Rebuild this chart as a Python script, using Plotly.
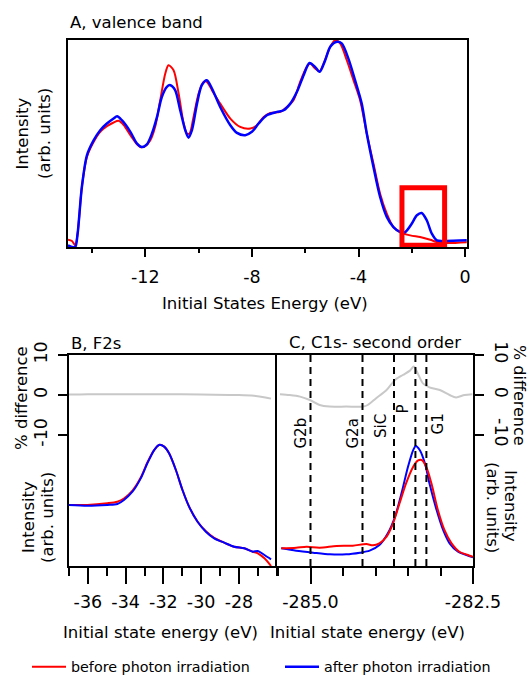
import plotly.graph_objects as go

# ---------------- data ----------------
# Panel A: valence band (intensity, arb. units)
a_red_x = [-14.9, -14.75, -14.63, -14.54, -14.38, -14.19, -13.94, -13.69, -13.44, -13.19, -13.0, -12.81,
           -12.56, -12.31, -12.19, -12.0, -11.81, -11.63, -11.44, -11.25, -11.13, -10.94, -10.75, -10.56,
           -10.44, -10.34, -10.19, -10.0, -9.81, -9.69, -9.5, -9.19, -8.81, -8.44, -8.06, -7.81, -7.56,
           -7.31, -6.94, -6.69, -6.44, -6.19, -5.94, -5.81, -5.63, -5.46, -5.31, -5.06, -4.88, -4.69,
           -4.44, -4.19, -3.94, -3.69, -3.44, -3.19, -2.94, -2.69, -2.44, -2.06, -1.69, -1.31, -1.06,
           -0.69, 0.06]
a_red_y = [0.035, 0.029, 0.008, 0.064, 0.289, 0.434, 0.506, 0.555, 0.582, 0.600, 0.608, 0.587,
           0.539, 0.495, 0.482, 0.486, 0.514, 0.579, 0.707, 0.836, 0.876, 0.852, 0.740, 0.595,
           0.547, 0.547, 0.627, 0.740, 0.796, 0.796, 0.756, 0.691, 0.619, 0.579, 0.571, 0.587, 0.627,
           0.646, 0.651, 0.675, 0.707, 0.796, 0.868, 0.884, 0.860, 0.847, 0.884, 0.965, 0.997, 0.981,
           0.900, 0.804, 0.707, 0.547, 0.402, 0.257, 0.161, 0.096, 0.072, 0.056, 0.048, 0.035, 0.024,
           0.019, 0.023]
a_blue_x = [-14.9, -14.75, -14.63, -14.54, -14.38, -14.19, -13.94, -13.69, -13.44, -13.19, -13.06, -12.88,
            -12.56, -12.31, -12.13, -11.94, -11.75, -11.56, -11.38, -11.19, -11.06, -10.88, -10.69, -10.5,
            -10.38, -10.25, -10.06, -9.88, -9.69, -9.5, -9.19, -8.81, -8.56, -8.25, -8.0, -7.75, -7.44,
            -7.06, -6.81, -6.56, -6.31, -6.06, -5.84, -5.63, -5.46, -5.25, -5.06, -4.81, -4.63, -4.38,
            -4.13, -3.88, -3.69, -3.44, -3.19, -2.94, -2.69, -2.44, -2.25, -2.0, -1.81, -1.63, -1.44,
            -1.25, -1.06, -0.81, 0.06]
a_blue_y = [0.008, 0.0, 0.0, 0.064, 0.289, 0.442, 0.514, 0.563, 0.595, 0.619, 0.630, 0.611,
            0.555, 0.498, 0.482, 0.495, 0.547, 0.627, 0.723, 0.772, 0.780, 0.756, 0.659, 0.563,
            0.527, 0.563, 0.691, 0.780, 0.804, 0.764, 0.675, 0.587, 0.550, 0.539, 0.555, 0.595, 0.635,
            0.651, 0.659, 0.691, 0.748, 0.828, 0.887, 0.868, 0.844, 0.900, 0.965, 0.989, 0.981, 0.908,
            0.804, 0.691, 0.547, 0.386, 0.241, 0.145, 0.096, 0.072, 0.072, 0.113, 0.153, 0.164, 0.129,
            0.064, 0.032, 0.029, 0.032]
a_ticks = [-12, -8, -4, 0]
a_tick_text = ["-12", "-8", "-4", "0"]
a_minor = [-14, -10, -6, -2]
a_box = {"x0": -2.37, "x1": -0.77, "y0": 0.009, "y1": 0.286}   # highlighted region

# Panel B: F2s
b_x = [-37.0, -36.03, -34.97, -34.44, -34.09, -33.64, -33.20, -32.85, -32.49, -32.23, -31.96, -31.70,
       -31.34, -30.99, -30.64, -30.19, -29.75, -29.31, -28.78, -28.25, -27.72, -27.27, -27.00, -26.65,
       -26.30]
b_red_y = [0.466, 0.466, 0.479, 0.491, 0.515, 0.575, 0.675, 0.790, 0.885, 0.924, 0.911, 0.860,
           0.733, 0.580, 0.453, 0.338, 0.265, 0.215, 0.178, 0.147, 0.135, 0.109, 0.097, 0.059, 0.0]
b_blue_y = [0.466, 0.460, 0.466, 0.473, 0.504, 0.567, 0.669, 0.784, 0.885, 0.924, 0.911, 0.860,
            0.733, 0.580, 0.453, 0.338, 0.262, 0.211, 0.178, 0.147, 0.135, 0.109, 0.115, 0.084, 0.051]
b_diff_x = [-37.0, -36.0, -34.0, -32.0, -30.0, -28.0, -27.2, -26.6, -26.3]
b_diff_y = [0.1, 0.2, 0.2, 0.2, 0.1, 0.0, -0.2, -0.6, -0.9]
b_ticks = [-36, -34, -32, -30, -28]
b_tick_text = ["-36", "-34", "-32", "-30", "-28"]

# Panel C: C1s second order
c_red_x = [-285.45, -285.22, -285.06, -284.86, -284.60, -284.35, -284.14, -284.04, -283.94, -283.83,
           -283.73, -283.63, -283.53, -283.42, -283.35, -283.29, -283.22, -283.14, -283.04, -282.94,
           -282.83, -282.71, -282.58, -282.50]
c_red_y = [0.135, 0.140, 0.147, 0.140, 0.153, 0.155, 0.168, 0.158, 0.173, 0.224,
           0.326, 0.479, 0.631, 0.758, 0.804, 0.809, 0.758, 0.631, 0.427, 0.275,
           0.173, 0.109, 0.084, 0.071]
c_blue_x = [-285.45, -285.22, -284.96, -284.70, -284.45, -284.24, -284.09, -283.94, -283.81, -283.70,
            -283.60, -283.50, -283.42, -283.38, -283.32, -283.24, -283.17, -283.06, -282.96, -282.86,
            -282.73, -282.60, -282.50]
c_blue_y = [0.135, 0.117, 0.102, 0.089, 0.089, 0.102, 0.117, 0.160, 0.250, 0.376,
            0.555, 0.758, 0.885, 0.916, 0.885, 0.784, 0.631, 0.427, 0.275, 0.173,
            0.109, 0.084, 0.066]
c_diff_x = [-285.47, -285.32, -285.16, -285.01, -284.86, -284.71, -284.45, -284.19, -284.12, -283.99,
            -283.83, -283.70, -283.58, -283.47, -283.41, -283.35, -283.27, -283.17, -283.01, -282.86,
            -282.76, -282.63, -282.51]
c_diff_y = [0.2, 0.0, -0.4, -1.25, -2.5, -2.9, -2.9, -2.9, -2.5, -0.8,
            1.25, 3.75, 5.0, 6.1, 7.1, 5.4, 2.9, 1.9, 1.25, 0.0,
            -0.6, 0.0, 0.2]
c_ticks = [-285.0, -282.5]
c_tick_text = ["-285.0", "-282.5"]
c_peak_names = ["G2b", "G2a", "SiC", "P", "G1"]
c_peak_pos = [-285.0, -284.20, -283.715, -283.386, -283.217]

diff_ticks = [-10, 0, 10]
diff_tick_text = ["-10", "0", "10"]

# ---------------- styling helpers ----------------
W, H = 530, 675
FONT = "DejaVu Sans"
RED = "rgb(255,0,0)"
BLUE = "rgb(0,0,255)"
GRAY = "rgb(200,200,200)"


def dx(p):
    return p / W


def dy(p):
    return 1 - p / H


LINE = dict(showline=True, linecolor="black", linewidth=2, showgrid=False, zeroline=False,
            automargin=False)
NOTICK = dict(ticks="", showticklabels=False)
TICKFONT = dict(family=FONT, size=17.5, color="black")

fig = go.Figure()

# Panel A
fig.add_trace(go.Scatter(x=a_red_x, y=a_red_y, xaxis="x", yaxis="y", mode="lines",
                         line=dict(color=RED, width=2, shape="spline", smoothing=0.8),
                         name="before photon irradiation", legend="legend"))
fig.add_trace(go.Scatter(x=a_blue_x, y=a_blue_y, xaxis="x", yaxis="y", mode="lines",
                         line=dict(color=BLUE, width=2.5, shape="spline", smoothing=0.8),
                         name="after photon irradiation", legend="legend2"))
# Panel B
fig.add_trace(go.Scatter(x=b_diff_x, y=b_diff_y, xaxis="x4", yaxis="y4", mode="lines",
                         line=dict(color=GRAY, width=2, shape="spline"), showlegend=False))
fig.add_trace(go.Scatter(x=b_x, y=b_red_y, xaxis="x2", yaxis="y2", mode="lines",
                         line=dict(color=RED, width=2, shape="spline", smoothing=0.8),
                         showlegend=False))
fig.add_trace(go.Scatter(x=b_x, y=b_blue_y, xaxis="x2", yaxis="y2", mode="lines",
                         line=dict(color=BLUE, width=2, shape="spline", smoothing=0.8),
                         showlegend=False))
# Panel C
fig.add_trace(go.Scatter(x=c_diff_x, y=c_diff_y, xaxis="x5", yaxis="y5", mode="lines",
                         line=dict(color=GRAY, width=2, shape="spline", smoothing=0.8), showlegend=False))
fig.add_trace(go.Scatter(x=c_blue_x, y=c_blue_y, xaxis="x3", yaxis="y3", mode="lines",
                         line=dict(color=BLUE, width=2, shape="spline", smoothing=0.8),
                         showlegend=False))
fig.add_trace(go.Scatter(x=c_red_x, y=c_red_y, xaxis="x3", yaxis="y3", mode="lines",
                         line=dict(color=RED, width=2, shape="spline", smoothing=0.8),
                         showlegend=False))

A_XR = [-14.9, 0.07]
B_XR = [-37.0, -26.0]
C_XR = [-285.52, -282.5]

LEG = dict(orientation="h", xanchor="left", yanchor="middle", itemwidth=34,
           font=dict(family=FONT, size=14.3, color="black"), bgcolor="rgba(0,0,0,0)",
           borderwidth=0)

layout = dict(
    width=W, height=H, margin=dict(l=0, r=0, t=0, b=0, pad=0, autoexpand=False),
    paper_bgcolor="white", plot_bgcolor="white",
    font=dict(family=FONT, size=16.5, color="black"),
    # ---- Panel A
    xaxis=dict(domain=[dx(68), dx(467)], range=A_XR, anchor="y", mirror=True,
               ticks="outside", ticklen=8, tickwidth=2, tickcolor="black",
               tickmode="array", tickvals=a_ticks, ticktext=a_tick_text, tickfont=TICKFONT,
               ticklabelstandoff=5,
               minor=dict(ticks="outside", ticklen=4, tickwidth=2, tickcolor="black",
                          tickmode="array", tickvals=a_minor),
               **LINE),
    xaxis6=dict(overlaying="x", anchor="y", range=A_XR, side="bottom",
                ticks="inside", ticklen=9, tickwidth=2, tickcolor="black",
                tickmode="array", tickvals=a_ticks, showticklabels=False,
                minor=dict(ticks="inside", ticklen=5, tickwidth=2, tickcolor="black",
                           tickmode="array", tickvals=a_minor),
                showline=False, showgrid=False, zeroline=False, automargin=False),
    yaxis=dict(domain=[dy(247), dy(39.5)], range=[0, 1.0], anchor="x", mirror=True, **NOTICK, **LINE),
    # ---- Panel B (bottom x / intensity y)
    xaxis2=dict(domain=[dx(69), dx(276.7)], range=B_XR, anchor="y2",
                ticks="outside", ticklen=16, tickwidth=2, tickcolor="black",
                tickmode="array", tickvals=b_ticks, ticktext=b_tick_text, tickfont=TICKFONT,
                ticklabelstandoff=3,
                minor=dict(ticks="outside", ticklen=8, tickwidth=2, tickcolor="black",
                           dtick=1, tick0=-37),
                **LINE),
    yaxis2=dict(domain=[dy(566), dy(435)], range=[0, 1.0], anchor="x2", **NOTICK, **LINE),
    # ---- Panel C (bottom x / intensity y)
    xaxis3=dict(domain=[dx(276.7), dx(473)], range=C_XR, anchor="y3",
                ticks="outside", ticklen=16, tickwidth=2, tickcolor="black",
                tickmode="array", tickvals=c_ticks, ticktext=c_tick_text, tickfont=TICKFONT,
                ticklabelstandoff=3,
                minor=dict(ticks="outside", ticklen=8, tickwidth=2, tickcolor="black",
                           dtick=0.5, tick0=-285.0),
                **LINE),
    yaxis3=dict(domain=[dy(566), dy(435)], range=[0, 1.0], anchor="x3", side="right", mirror=True,
                **NOTICK, **LINE),
    # ---- % difference panels
    xaxis4=dict(domain=[dx(69), dx(276.7)], range=B_XR, anchor="y4", side="top", **NOTICK, **LINE),
    yaxis4=dict(domain=[dy(435), dy(355)], range=[-10, 10], anchor="x4", side="left",
                ticks="outside", ticklen=9, tickwidth=2, tickcolor="black",
                tickmode="array", tickvals=diff_ticks, ticktext=diff_tick_text,
                tickangle=-90, tickfont=TICKFONT, ticklabelstandoff=4, **LINE),
    yaxis6=dict(overlaying="y4", anchor="x4", side="left", range=[-10, 10],
                ticks="inside", ticklen=8, tickwidth=2, tickcolor="black",
                tickmode="array", tickvals=diff_ticks, showticklabels=False,
                showline=False, showgrid=False, zeroline=False, automargin=False),
    xaxis5=dict(domain=[dx(276.7), dx(473)], range=C_XR, anchor="y5", side="top", **NOTICK, **LINE),
    yaxis5=dict(domain=[dy(435), dy(355)], range=[-10, 10], anchor="x5", side="right", mirror=True,
                ticks="outside", ticklen=9, tickwidth=2, tickcolor="black",
                tickmode="array", tickvals=diff_ticks, ticktext=diff_tick_text,
                tickangle=90, tickfont=TICKFONT, ticklabelstandoff=4, **LINE),
    yaxis7=dict(overlaying="y5", anchor="x5", side="right", range=[-10, 10],
                ticks="inside", ticklen=10, tickwidth=2, tickcolor="black",
                tickmode="array", tickvals=diff_ticks, showticklabels=False,
                showline=False, showgrid=False, zeroline=False, automargin=False),
    legend=dict(x=dx(27), y=dy(667), **LEG),
    legend2=dict(x=dx(280), y=dy(667), **LEG),
    showlegend=True,
)
fig.update_layout(**layout)

# highlight box in panel A
fig.add_shape(type="rect", xref="x", yref="y", x0=a_box["x0"], x1=a_box["x1"],
              y0=a_box["y0"], y1=a_box["y1"], line=dict(color=RED, width=5))

# dashed peak markers in panel C
for pos in c_peak_pos:
    fig.add_shape(type="line", xref="x3", yref="paper", x0=pos, x1=pos, y0=dy(566), y1=dy(355),
                  line=dict(color="black", width=2, dash="7px,5px"))

label_shift = [-10, -10, -13, -12, 12]
label_y = [433, 434, 426, 409, 424]
for name, pos, sh, ly in zip(c_peak_names, c_peak_pos, label_shift, label_y):
    fig.add_annotation(text=name, xref="x3", yref="paper", x=pos, y=dy(ly), xshift=sh,
                       xanchor="center", yanchor="middle", textangle=-90, showarrow=False,
                       font=dict(family=FONT, size=15))


def note(text, x, y, angle=0, anchor="center", size=16.5):
    fig.add_annotation(text=text, xref="paper", yref="paper", x=dx(x), y=dy(y),
                       xanchor=anchor, yanchor="middle", textangle=angle, showarrow=False,
                       font=dict(family=FONT, size=size))


note("A, valence band", 68, 23, anchor="left")
note("B, F2s", 69, 343, anchor="left")
note("C, C1s- second order", 375, 342)
note("Intensity", 21.5, 134, angle=-90)
note("(arb. units)", 44, 134, angle=-90)
note("Initial States Energy (eV)", 265, 304)
note("% difference", 21, 398, angle=-90)
note("Intensity", 28, 517, angle=-90)
note("(arb. units)", 47, 518, angle=-90)
note("% difference", 519, 395, angle=90, size=16)
note("Intensity", 511, 506, angle=90)
note("(arb. units)", 492, 507, angle=90)
note("Initial state energy (eV)", 160, 632)
note("Initial state energy (eV)", 367, 632)

fig.write_html("out.html")
